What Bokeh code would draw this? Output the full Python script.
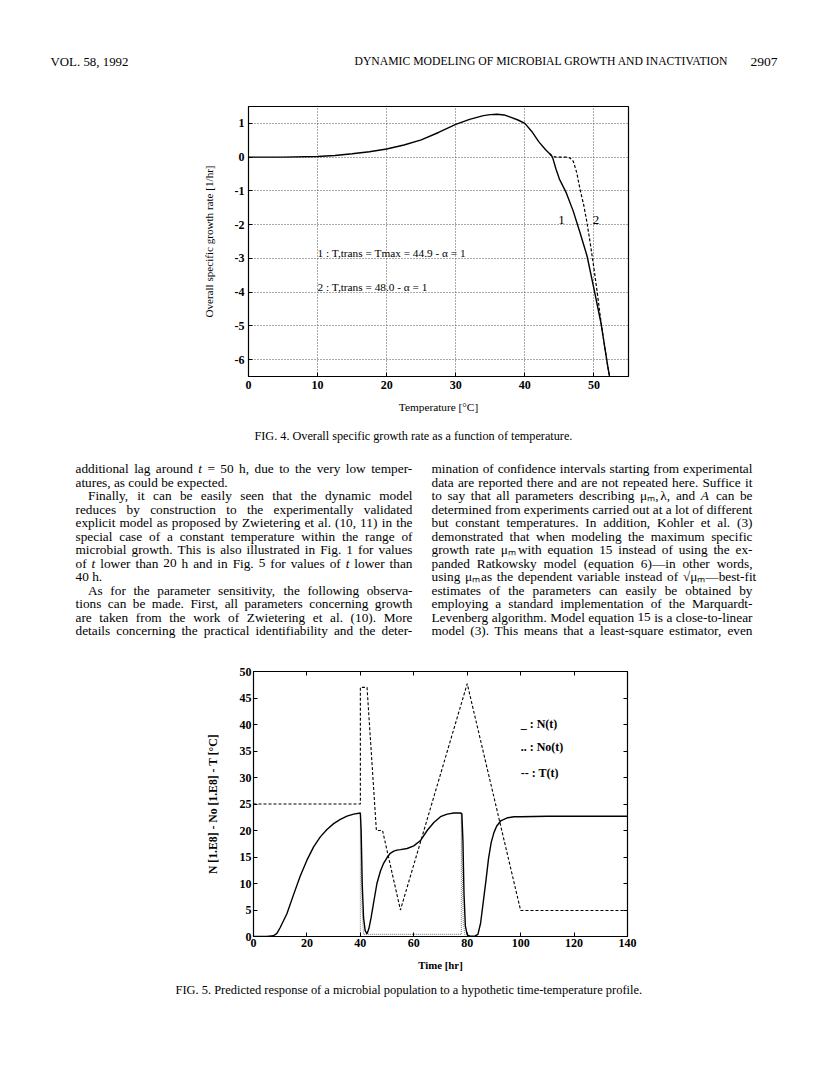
from bokeh.plotting import figure
from bokeh.models import Range1d, LinearAxis, FixedTicker
from bokeh.embed import file_html
from bokeh.resources import INLINE
from bokeh.core.properties import value

SERIF = "Liberation Serif"
PW = 816

# ---------------- data: Fig. 4 ----------------
temp_1 = [0, 5, 10, 12.5, 15, 17.5, 20, 22.5, 25, 27.5, 30, 32, 34, 35, 36, 37, 38, 39, 40,
          41, 42, 43, 43.6, 44, 44.5, 45, 46, 47, 48, 49, 50, 51, 51.5, 52, 52.6]
rate_1 = [0, 0, 0.02, 0.05, 0.1, 0.16, 0.24, 0.36, 0.51, 0.73, 0.97, 1.12, 1.23, 1.26, 1.27, 1.25,
          1.18, 1.1, 1.0, 0.76, 0.46, 0.22, 0.1, 0.0, -0.35, -0.65, -1.06, -1.6, -2.25, -2.93,
          -3.9, -4.9, -5.55, -6.2, -6.9]
temp_2 = [43.6, 44, 44.5, 45, 46, 46.5, 47, 47.5, 48, 48.5, 49, 49.5, 50, 50.5, 51, 51.5, 52, 52.6]
rate_2 = [0.1, 0.03, 0.0, 0.0, 0.0, -0.02, -0.12, -0.45, -0.97, -1.4, -1.95, -2.6, -3.3, -4.05,
          -4.85, -5.55, -6.2, -6.9]
fig4_xticks = [0, 10, 20, 30, 40, 50]
fig4_yticks = [-6, -5, -4, -3, -2, -1, 0, 1]

# ---------------- data: Fig. 5 ----------------
time_n = [0, 5, 7.5, 8.75, 10, 12.5, 15, 17.5, 20, 22.5, 25, 27.5, 30, 32.5, 35, 37.5, 40, 40.3,
          40.7, 41.2, 41.8, 42.5, 43.2, 44, 45, 46.2, 47.5, 48.7, 50, 51.2, 52.5, 53.7, 55, 57.5,
          60, 62.5, 65, 67.5, 70, 72.5, 75, 77.5, 78, 78.4, 78.8, 79.3, 80, 81, 82, 83, 84, 85,
          86, 87, 88, 89, 90, 91, 92.5, 95, 97.5, 100, 110, 120, 130, 140]
n_t = [0, 0, 0.15, 0.6, 1.7, 4.3, 7.9, 11.4, 14.4, 16.9, 18.8, 20.2, 21.3, 22.1, 22.7, 23.1, 23.3,
       20, 10, 3.5, 1.1, 0.5, 1.5, 3.5, 6.5, 10, 12.3, 13.8, 14.9, 15.7, 16.1, 16.3, 16.4, 16.6,
       17.1, 18.1, 20.0, 21.5, 22.6, 23.1, 23.3, 23.3, 23.2, 18, 8, 2, 0.3, 0.05, 0.05, 0.1, 0.4,
       2.5, 6.5, 10.5, 14.8, 17.8, 19.6, 20.8, 21.8, 22.4, 22.6, 22.6, 22.7, 22.7, 22.7, 22.7]
time_no = [0, 40, 40, 40.6, 41.2, 77.8, 77.8, 78.5, 79.2, 140]
no_t = [0, 0, 23.3, 6, 0.4, 0.4, 23.3, 3, 0, 0]
time_T = [0, 40, 40, 42.5, 46, 48.3, 55, 80, 100, 140]
temp_T = [25, 25, 47, 47, 20, 20, 5, 47.7, 4.9, 4.9]
fig5_xticks = [0, 20, 40, 60, 80, 100, 120, 140]
fig5_yticks = [0, 5, 10, 15, 20, 25, 30, 35, 40, 45, 50]
legend5 = ["_ : N(t)", ".. : No(t)", "-- : T(t)"]

# ---------------- text content ----------------
header_left = "VOL. 58, 1992"
header_mid = "DYNAMIC MODELING OF MICROBIAL GROWTH AND INACTIVATION"
header_right = "2907"
cap4 = "FIG. 4.  Overall specific growth rate as a function of temperature."
cap5 = "FIG. 5.  Predicted response of a microbial population to a hypothetic time-temperature profile."

left_lines = [
    ("additional lag around *t = 50 h, due to the very low temper-", True, 0),
    ("atures, as could be expected.", False, 0),
    ("Finally, it can be easily seen that the dynamic model", True, 1),
    ("reduces by construction to the experimentally validated", True, 0),
    ("explicit model as proposed by Zwietering et al. (10, 11) in the", True, 0),
    ("special case of a constant temperature within the range of", True, 0),
    ("microbial growth. This is also illustrated in Fig. 1 for values", True, 0),
    ("of *t lower than 20 h and in Fig. 5 for values of *t lower than", True, 0),
    ("40 h.", False, 0),
    ("As for the parameter sensitivity, the following observa-", True, 1),
    ("tions can be made. First, all parameters concerning growth", True, 0),
    ("are taken from the work of Zwietering et al. (10). More", True, 0),
    ("details concerning the practical identifiability and the deter-", True, 0),
]
right_lines = [
    ("mination of confidence intervals starting from experimental", True, 0),
    ("data are reported there and are not repeated here. Suffice it", True, 0),
    ("to say that all parameters describing μₘ, λ, and *A can be", True, 0),
    ("determined from experiments carried out at a lot of different", True, 0),
    ("but constant temperatures. In addition, Kohler et al. (3)", True, 0),
    ("demonstrated that when modeling the maximum specific", True, 0),
    ("growth rate μₘ with equation 15 instead of using the ex-", True, 0),
    ("panded Ratkowsky model (equation 6)—in other words,", True, 0),
    ("using μₘ as the dependent variable instead of √μₘ—best-fit", True, 0),
    ("estimates of the parameters can easily be obtained by", True, 0),
    ("employing a standard implementation of the Marquardt-", True, 0),
    ("Levenberg algorithm. Model equation 15 is a close-to-linear", True, 0),
    ("model (3). This means that a least-square estimator, even", True, 0),
]

# ---------------- Times-like advance widths (per em) ----------------
_groups = {
    0.25: " ,.", 0.278: "ijlt:;/", 0.333: "fr()[]-I'", 0.389: "sJ", 0.444: "acez?",
    0.5: "bdghknopquvxy0123456789*_μλ", 0.52: "α", 0.564: "=+<>", 0.556: "FPS", 0.611: "ELTZ",
    0.667: "BCR", 0.722: "wADGHKNOQUVXY", 0.778: "m&", 0.833: "%", 0.889: "M", 0.944: "W",
    1.0: "—", 0.4: "°", 0.549: "√", 0.35: "ₘ",
}
CW = {c: w for w, s in _groups.items() for c in s}


def tw(s):
    return sum(CW.get(c, 0.5) for c in s)


def fit(s, width, bold=False):
    return width / tw(s) * (0.95 if bold else 1.0)


def canvas(h):
    p = figure(width=PW, height=h, x_range=Range1d(0, PW), y_range=Range1d(h, 0),
               toolbar_location=None, output_backend="svg", min_border=0,
               x_axis_type=None, y_axis_type=None, outline_line_color=None)
    p.grid.visible = False
    return p


def put(p, x, y, s, fs, align="left", style="normal", baseline="middle"):
    p.text(x=[x], y=[y], text=[s], text_font=value(SERIF), text_font_size=f"{fs:.2f}px",
           text_align=align, text_baseline=baseline, text_color="black", text_font_style=style)


# ---------------- header (page y 0..90) ----------------
ph = canvas(90)
hy = 61
put(ph, 50, hy, header_left, fit(header_left, 78))
put(ph, 354, hy, header_mid, fit(header_mid, 377))
put(ph, 777, hy, header_right, fit(header_right, 27), align="right")


def style_axes(axes, fs_tick="12px"):
    for ax in axes:
        ax.major_label_text_font = SERIF
        ax.major_label_text_font_size = fs_tick
        ax.major_label_text_font_style = "bold"
        ax.major_label_text_color = "black"
        ax.axis_label_text_font = SERIF
        ax.axis_label_text_color = "black"
        ax.minor_tick_line_color = None
        ax.major_tick_in = 4
        ax.major_tick_out = 0
        ax.axis_line_color = "black"
        ax.major_tick_line_color = "black"


# ---------------- Fig. 4 (page y 90..425) ----------------
p4 = figure(width=PW, height=335, x_range=Range1d(0, 55), y_range=Range1d(-6.5, 1.5),
            toolbar_location=None, output_backend="svg",
            min_border_left=248, min_border_right=PW - 628, min_border_top=16, min_border_bottom=49)
bx4, ly4 = p4.below[0], p4.left[0]
bx4.ticker = FixedTicker(ticks=fig4_xticks)
ly4.ticker = FixedTicker(ticks=fig4_yticks)
ly4.major_label_overrides = {t: str(t) for t in fig4_yticks}
style_axes([bx4, ly4])
bx4.axis_label = "Temperature [°C]"
ly4.axis_label = "Overall specific growth rate [1/hr]"
bx4.axis_label_text_font_size = f"{fit('Temperature [°C]', 80):.1f}px"
ly4.axis_label_text_font_size = f"{fit('Overall specific growth rate [1/hr]', 152):.1f}px"
bx4.axis_label_text_font_style = "normal"
ly4.axis_label_text_font_style = "normal"
bx4.major_label_standoff = 4
ly4.major_label_standoff = 4
bx4.axis_label_standoff = 9
ly4.axis_label_standoff = 17
p4.grid.grid_line_color = "#555555"
p4.grid.grid_line_dash = "1 2"
p4.grid.grid_line_width = 1
p4.outline_line_color = "black"
p4.outline_line_width = 1.2
p4.line(temp_1, rate_1, line_color="black", line_width=1.4)
p4.line(temp_2, rate_2, line_color="black", line_width=1.2, line_dash="3 2")
p4.text(x=[45.3, 50.3], y=[-1.85, -1.85], text=["1", "2"], text_font=value(SERIF),
        text_font_size="13px", text_align="center", text_baseline="middle", text_color="black")
ann1 = "1 : T,trans = Tmax = 44.9 - α = 1"
ann2 = "2 : T,trans = 48.0 - α = 1"
fa = fit(ann1, 149)
p4.text(x=[10, 10], y=[-2.85, -3.85], text=[ann1, ann2], text_font=value(SERIF),
        text_font_size=f"{fa:.1f}px", text_align="left", text_baseline="middle", text_color="black")

# ---------------- caption 4 + body text (page y 425..660) ----------------
TXT_TOP = 425
pt = canvas(235)
put(pt, 254, 435 - TXT_TOP, cap4, fit(cap4, 321))

cols = [(75, 412, left_lines), (431, 752, right_lines)]


def words_of(line):
    return [(w[1:], True) if w.startswith("*") else (w, False) for w in line.split(" ")]


cands = []
for x0, x1, lines in cols:
    for txt, just, ind in lines:
        if just:
            ws = words_of(txt)
            em = sum(tw(w) for w, _ in ws) + 0.2 * (len(ws) - 1) + ind * 1.0
            cands.append((x1 - x0) / em)
FS = min(13.3, min(cands))
IND = 12.5

norm = {"x": [], "y": [], "t": []}
ital = {"x": [], "y": [], "t": []}
for x0, x1, lines in cols:
    for i, (txt, just, ind) in enumerate(lines):
        y = 468 + 13.5 * i - TXT_TOP
        ws = words_of(txt)
        start = x0 + (IND if ind else 0)
        widths = [tw(w) * FS for w, _ in ws]
        if just and len(ws) > 1:
            gap = (x1 - start - sum(widths)) / (len(ws) - 1)
        else:
            gap = 0.25 * FS
        x = start
        for (w, it), wd in zip(ws, widths):
            d = ital if it else norm
            d["x"].append(x)
            d["y"].append(y)
            d["t"].append(w)
            x += wd + gap

pt.text(x=norm["x"], y=norm["y"], text=norm["t"], text_font=value(SERIF),
        text_font_size=f"{FS:.2f}px", text_align="left", text_baseline="middle", text_color="black")
pt.text(x=ital["x"], y=ital["y"], text=ital["t"], text_font=value(SERIF),
        text_font_size=f"{FS:.2f}px", text_align="left", text_baseline="middle", text_color="black",
        text_font_style="italic")

# ---------------- Fig. 5 (page y 660..981) ----------------
p5 = figure(width=PW, height=321, x_range=Range1d(0, 140), y_range=Range1d(0, 50),
            toolbar_location=None, output_backend="svg",
            min_border_left=253, min_border_right=PW - 627, min_border_top=11, min_border_bottom=45)
p5.grid.visible = False
bx5, ly5 = p5.below[0], p5.left[0]
bx5.ticker = FixedTicker(ticks=fig5_xticks)
ly5.ticker = FixedTicker(ticks=fig5_yticks)
ax_top = LinearAxis(ticker=FixedTicker(ticks=fig5_xticks),
                    major_label_overrides={t: "" for t in fig5_xticks})
ax_right = LinearAxis(ticker=FixedTicker(ticks=fig5_yticks),
                      major_label_overrides={t: "" for t in fig5_yticks})
p5.add_layout(ax_top, "above")
p5.add_layout(ax_right, "right")
style_axes([bx5, ly5, ax_top, ax_right])
for ax in (ax_top, ax_right):
    ax.major_label_text_font_size = "1px"
    ax.major_label_standoff = 0
bx5.axis_label = "Time [hr]"
ly5.axis_label = "N [1.E8] - No [1.E8] - T [°C]"
bx5.axis_label_text_font_size = f"{fit('Time [hr]', 44, True):.1f}px"
ly5.axis_label_text_font_size = f"{fit('N [1.E8] - No [1.E8] - T [°C]', 145, True):.1f}px"
bx5.axis_label_text_font_style = "bold"
ly5.axis_label_text_font_style = "bold"
bx5.major_label_standoff = 2
ly5.major_label_standoff = 2
bx5.axis_label_standoff = 9
ly5.axis_label_standoff = 17
p5.outline_line_color = "black"
p5.outline_line_width = 1.2
p5.line(time_no, no_t, line_color="#8a8a8a", line_width=1.1, line_dash="1 1")
p5.line(time_T, temp_T, line_color="black", line_width=1.1, line_dash="3 2")
p5.line(time_n, n_t, line_color="black", line_width=1.4)
p5.text(x=[100, 100, 100], y=[40.1, 35.7, 30.8], text=legend5, text_font=value(SERIF),
        text_font_size="12px", text_align="left", text_baseline="middle", text_color="black",
        text_font_style="bold")

# ---------------- caption 5 (page y 981..1061) ----------------
C5_TOP = 981
pc = canvas(80)
put(pc, 175, 987 - C5_TOP + 2, cap5, fit(cap5, 470))

page = [ph, p4, pt, p5, pc]
open("out.html", "w").write(file_html(page, INLINE))
